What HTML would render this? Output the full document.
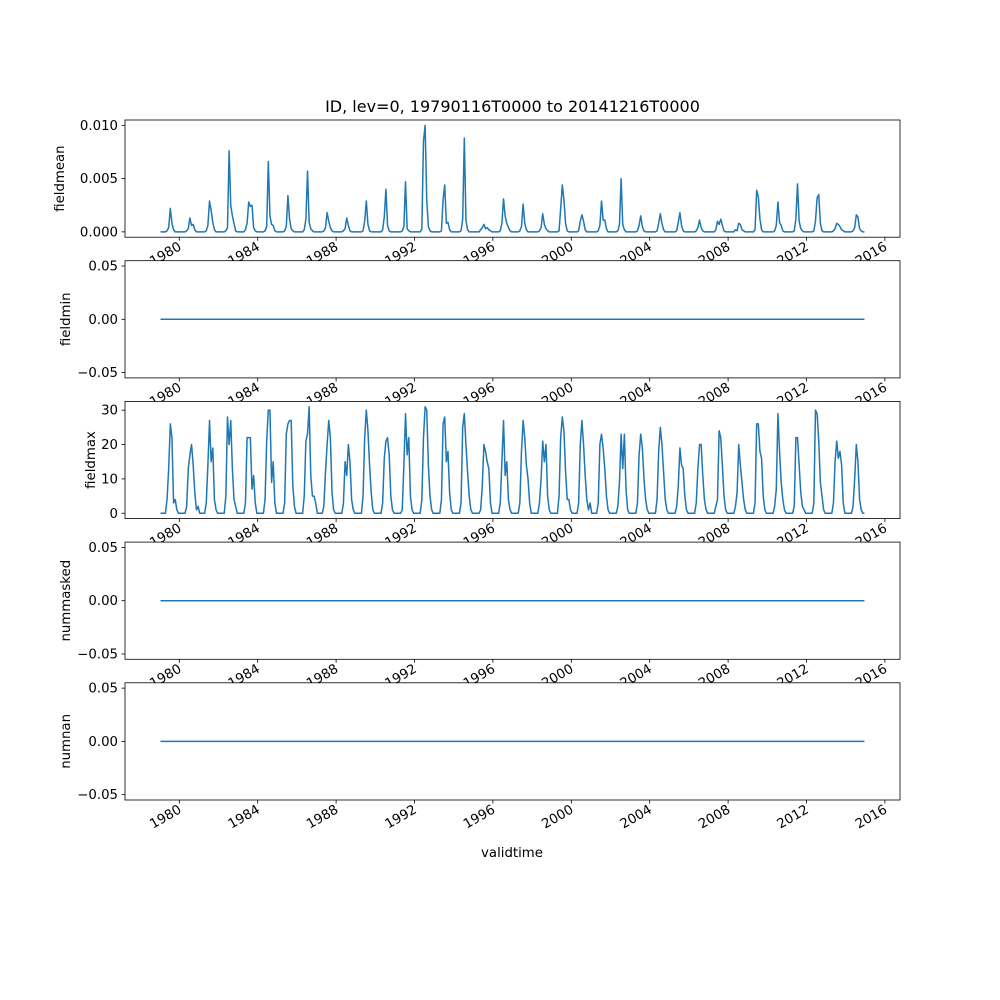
<!DOCTYPE html>
<html><head><meta charset="utf-8"><style>
html,body{margin:0;padding:0;background:#fff}
svg{display:block;font-family:"DejaVu Sans","Liberation Sans",sans-serif}
</style></head><body>
<svg id="fig" width="1000" height="1000" viewBox="0 0 1000 1000"></svg>
<script>
const years = [1979,1980,1981,1982,1983,1984,1985,1986,1987,1988,1989,1990,1991,1992,1993,1994,1995,1996,1997,1998,1999,2000,2001,2002,2003,2004,2005,2006,2007,2008,2009,2010,2011,2012,2013,2014];
const xTicks = [1980,1984,1988,1992,1996,2000,2004,2008,2012,2016];
// fieldmean in units of 1e-4, one row per year (Jan..Dec)
const fieldmeanE4 = [
[0,0,0,0,1,4,22,8,2,0,0,0],[0,0,0,0,1,3,13,6,7,2,0,0],[0,0,0,0,1,6,29,20,9,2,0,0],
[0,0,0,0,1,4,76,25,15,8,1,0],[0,0,0,0,2,8,28,24,25,4,1,0],[0,0,0,0,1,5,66,15,7,6,1,0],
[0,0,0,0,1,5,34,12,3,1,0,0],[0,0,0,0,2,12,57,9,3,1,0,0],[0,0,0,0,1,4,18,10,4,1,0,0],
[0,0,0,0,1,3,13,6,1,0,0,0],[0,0,0,0,1,10,29,7,1,0,0,0],[0,0,0,0,2,14,40,6,1,0,0,0],
[0,0,0,0,1,5,47,3,1,0,0,0],[0,0,0,0,3,85,100,30,5,1,0,0],[0,0,0,0,1,30,44,8,9,2,0,0],
[0,0,0,0,1,12,88,11,2,0,0,0],[0,0,0,0,2,4,7,3,4,2,1,0],[0,0,0,0,1,8,31,15,8,4,1,0],
[0,0,0,0,1,5,26,8,2,0,0,0],[0,0,0,0,1,4,17,7,3,1,0,0],[0,0,0,0,1,22,44,30,8,1,0,0],
[0,0,0,0,1,10,16,10,2,0,0,0],[0,0,0,0,1,6,29,11,11,3,0,0],[0,0,0,0,1,7,50,7,2,0,0,0],
[0,0,0,0,1,6,15,5,1,0,0,0],[0,0,0,0,1,8,17,8,2,0,0,0],[0,0,0,0,1,9,18,6,1,0,0,0],
[0,0,0,0,1,4,11,4,1,0,0,0],[0,0,0,0,2,10,7,12,6,1,0,0],[0,0,0,0,2,1,8,7,2,1,0,0],
[0,0,0,0,2,39,33,12,2,0,0,0],[0,0,0,0,1,6,28,9,6,1,0,0],[0,0,0,0,1,12,45,10,3,1,0,0],
[0,0,0,0,1,10,32,35,8,1,0,0],[0,0,0,0,1,3,8,7,5,2,1,0],[0,0,0,0,1,4,16,14,3,1,0,0]];
const fieldmax = [
[0,0,0,0,4,13,26,22,3,4,1,0],[0,0,0,0,2,13,17,20,14,6,1,2],[0,0,0,0,3,14,27,15,19,4,1,0],
[0,0,0,0,5,28,20,27,13,4,2,0],[0,0,0,0,3,22,22,22,7,11,3,0],[0,0,0,0,4,21,30,30,9,15,3,0],
[0,0,0,0,3,23,26,27,27,8,2,0],[0,0,0,0,5,21,23,31,11,5,5,3],[0,0,0,0,2,12,20,27,22,6,1,0],
[0,0,0,0,3,15,11,20,15,4,1,0],[0,0,0,0,5,22,30,24,14,6,1,0],[0,0,0,0,3,16,21,22,17,5,1,0],
[0,0,0,0,1,14,29,17,22,5,1,0],[0,0,0,0,4,22,31,30,14,5,1,0],[0,0,0,0,4,26,28,15,18,6,1,0],
[0,0,0,0,3,25,29,20,12,5,1,0],[0,0,0,0,1,8,20,18,15,13,3,0],[0,0,0,0,3,15,27,11,15,4,1,0],
[0,0,0,0,3,18,27,22,14,10,3,0],[0,0,0,0,3,10,21,15,20,5,1,0],[0,0,0,0,5,22,28,24,12,4,4,1],
[0,0,0,0,3,20,27,20,11,4,1,3],[0,0,0,0,3,20,23,19,13,5,1,0],[0,0,0,0,2,9,23,13,23,7,1,0],
[0,0,0,0,3,17,23,19,10,4,1,0],[0,0,0,0,4,18,25,20,12,4,1,0],[0,0,0,0,2,8,19,14,13,5,1,0],
[0,0,0,0,3,13,20,20,11,4,1,0],[0,0,0,0,2,4,24,22,14,5,1,0],[0,0,0,0,2,6,20,14,9,4,1,0],
[0,0,0,0,3,26,26,18,16,5,1,0],[0,0,0,0,2,7,29,18,9,4,1,0],[0,0,0,0,2,22,22,14,6,2,1,0],
[0,0,0,0,3,30,29,21,9,5,1,0],[0,0,0,0,3,15,21,16,18,14,3,0],[0,0,0,0,2,10,20,15,4,1,0,0]];
const fieldminVal = 0, nummaskedVal = 0, numnanVal = 0;
const meanTicks = [0.000,0.005,0.010], meanTickLabels = ["0.000","0.005","0.010"];
const maxTicks = [0,10,20,30], maxTickLabels = ["0","10","20","30"];
const flatTicks = [-0.05,0,0.05], flatTickLabels = ["\u22120.05","0.00","0.05"];

const NS="http://www.w3.org/2000/svg", svg=document.getElementById('fig');
function mk(tag,attrs,parent){const e=document.createElementNS(NS,tag);for(const k in attrs)e.setAttribute(k,attrs[k]);(parent||svg).appendChild(e);return e;}
const L=125,R=900,H=117.2,tops=[120,260.7,401.4,542.1,682.8];
const xs=y=>179.3+(y-1980)*19.6;
const times=[];years.forEach(y=>{for(let m=0;m<12;m++)times.push(y+(m+0.5)/12);});
const flat=a=>a.reduce((s,r)=>s.concat(r),[]);
const panels=[
 {name:'fieldmean',vals:flat(fieldmeanE4).map(v=>v*1e-4),ymin:-0.0005,ymax:0.0105,ticks:meanTicks,labels:meanTickLabels,lx:57},
 {name:'fieldmin',vals:times.map(()=>fieldminVal),ymin:-0.055,ymax:0.055,ticks:flatTicks,labels:flatTickLabels,lx:63},
 {name:'fieldmax',vals:flat(fieldmax),ymin:-1.55,ymax:32.55,ticks:maxTicks,labels:maxTickLabels,lx:88},
 {name:'nummasked',vals:times.map(()=>nummaskedVal),ymin:-0.055,ymax:0.055,ticks:flatTicks,labels:flatTickLabels,lx:63},
 {name:'numnan',vals:times.map(()=>numnanVal),ymin:-0.055,ymax:0.055,ticks:flatTicks,labels:flatTickLabels,lx:63}];
panels.forEach((p,i)=>{
 const T=tops[i],B=T+H;
 const g=mk('g',{});
 
 
 mk('rect',{x:L,y:T,width:R-L,height:H,fill:'#fff'},g);
 const ys=v=>B-(v-p.ymin)/(p.ymax-p.ymin)*H;
 let d='';times.forEach((t,k)=>{d+=(k?'L':'M')+xs(t).toFixed(2)+','+ys(p.vals[k]).toFixed(2);});
 const line=mk('path',{d:d,fill:'none',stroke:'#1f77b4','stroke-width':1.5,'stroke-linejoin':'round'},g);
 
 
 mk('rect',{x:L,y:T,width:R-L,height:H,fill:'none',stroke:'#000','stroke-width':0.8},g);
 p.ticks.forEach((tv,j)=>{const y=ys(tv);
  mk('line',{x1:L-3.5,x2:L,y1:y,y2:y,stroke:'#000','stroke-width':0.8},g);
  const tl=mk('text',{x:L-7,y:y+4.5,'text-anchor':'end','font-size':13.3},g);tl.textContent=p.labels[j];
  
  });
 xTicks.forEach(yr=>{const x=xs(yr);
  mk('line',{x1:x,x2:x,y1:B,y2:B+3.5,stroke:'#000','stroke-width':0.8},g);
  const tl=mk('text',{x:0,y:0,'text-anchor':'end','font-size':13.3,transform:`translate(${x+3},${B+12}) rotate(-30)`},g);tl.textContent=yr;
  
  });
 const yl=mk('text',{x:0,y:0,'text-anchor':'middle','font-size':13.3,transform:`translate(${p.lx+7},${T+H/2}) rotate(-90)`},g);yl.textContent=p.name;
 
 
});
const title=mk('text',{x:512.5,y:112,'text-anchor':'middle','font-size':16});title.textContent='ID, lev=0, 19790116T0000 to 20141216T0000';


const xl=mk('text',{x:512,y:857,'text-anchor':'middle','font-size':13.3});xl.textContent='validtime';


</script>
</body></html>
